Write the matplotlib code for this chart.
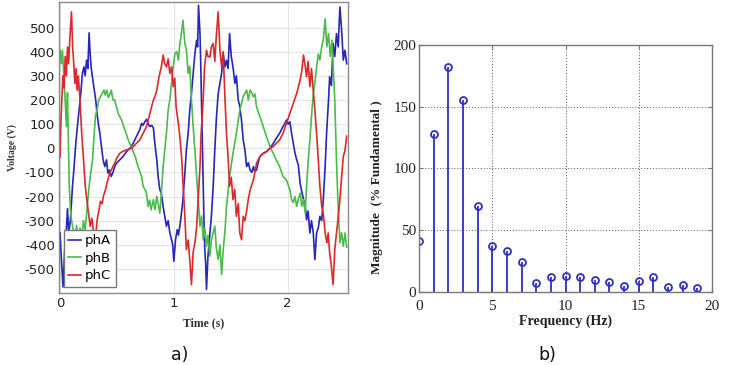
import matplotlib
matplotlib.use("Agg")
import matplotlib.pyplot as plt

plt.rcParams["axes.unicode_minus"] = False

# ---------------- data: panel a) three-phase voltages ----------------
A_t = [
    0.000, 0.010, 0.026, 0.040, 0.050, 0.065, 0.076, 0.090, 0.109, 0.123,
    0.138, 0.152, 0.167, 0.182, 0.196, 0.210, 0.220, 0.233, 0.244, 0.255,
    0.264, 0.274, 0.284, 0.298, 0.313, 0.328, 0.340, 0.350, 0.364, 0.378,
    0.393, 0.408, 0.420, 0.435, 0.450, 0.465, 0.480, 0.496, 0.525, 0.554,
    0.584, 0.613, 0.642, 0.670, 0.700, 0.716, 0.730, 0.745, 0.760, 0.775,
    0.790, 0.805, 0.820, 0.833, 0.850, 0.862, 0.877, 0.890, 0.906, 0.920,
    0.935, 0.950, 0.965, 0.980, 0.990, 1.000, 1.015, 1.030, 1.040, 1.053,
    1.067, 1.080, 1.097, 1.110, 1.126, 1.140, 1.155, 1.170, 1.185, 1.200,
    1.209, 1.217, 1.230, 1.237, 1.246, 1.255, 1.264, 1.272, 1.280, 1.287,
    1.300, 1.317, 1.330, 1.346, 1.360, 1.375, 1.390, 1.405, 1.420, 1.434,
    1.450, 1.463, 1.477, 1.490, 1.505, 1.520, 1.537, 1.550, 1.566, 1.580,
    1.595, 1.610, 1.625, 1.640, 1.655, 1.670, 1.685, 1.700, 1.710, 1.727,
    1.740, 1.757, 1.786, 1.815, 1.845, 1.874, 1.900, 1.930, 1.960, 1.977,
    1.990, 2.005, 2.020, 2.035, 2.050, 2.065, 2.080, 2.095, 2.110, 2.125,
    2.140, 2.155, 2.167, 2.180, 2.196, 2.210, 2.226, 2.240, 2.255, 2.270,
    2.284, 2.300, 2.314, 2.330, 2.343, 2.360, 2.370, 2.385, 2.400, 2.415,
    2.430, 2.445, 2.460, 2.475, 2.490, 2.504, 2.520]
A_v = [
    -350, -450, -575, -420, -380, -250, -350, -300, -158, -76,
    20, 90, 158, 227, 310, 337, 300, 365, 330, 478,
    392, 330, 296, 250, 200, 131, 90, 60, 7, -48,
    -76, -48, -103, -90, -117, -100, -76, -62, -48, -34,
    -14, 0, 20, 48, 76, 103, 95, 110, 120, 100,
    90, 95, 85, 20, -48, -117, -172, -186, -241, -282,
    -323, -300, -351, -379, -400, -468, -379, -337, -360, -323,
    -269, -213, -103, -7, 62, 158, 227, 310, 392, 447,
    420, 592, 475, 337, 131, -76, -282, -420, -480, -585,
    -447, -351, -282, -158, -7, 131, 227, 269, 310, 392,
    337, 365, 330, 475, 380, 337, 269, 300, 200, 172,
    117, 34, -7, -76, -60, -90, -100, -76, -96, -90,
    -62, -34, -21, -14, 0, 20, 41, 62, 90, 103,
    117, 100, 110, 62, 20, -20, -48, -70, -145, -180,
    -213, -240, -296, -260, -351, -300, -351, -461, -351, -330,
    -282, -300, -213, -76, 62, 200, 296, 260, 434, 380,
    475, 420, 585, 490, 365, 406, 350]

B_t = [
    0.000, 0.010, 0.020, 0.030, 0.044, 0.056, 0.065, 0.074, 0.080, 0.090,
    0.100, 0.115, 0.130, 0.145, 0.160, 0.175, 0.190, 0.205, 0.220, 0.235,
    0.255, 0.270, 0.285, 0.300, 0.310, 0.330, 0.340, 0.355, 0.370, 0.385,
    0.397, 0.410, 0.425, 0.440, 0.450, 0.465, 0.480, 0.510, 0.540, 0.570,
    0.600, 0.630, 0.660, 0.686, 0.716, 0.730, 0.745, 0.760, 0.774, 0.787,
    0.800, 0.820, 0.833, 0.850, 0.862, 0.877, 0.890, 0.906, 0.920, 0.935,
    0.950, 0.965, 0.980, 0.994, 1.010, 1.025, 1.040, 1.053, 1.067, 1.080,
    1.097, 1.110, 1.126, 1.140, 1.155, 1.170, 1.185, 1.200, 1.214, 1.230,
    1.244, 1.258, 1.272, 1.287, 1.300, 1.317, 1.330, 1.346, 1.360, 1.375,
    1.390, 1.405, 1.420, 1.434, 1.450, 1.463, 1.477, 1.490, 1.520, 1.550,
    1.580, 1.610, 1.640, 1.655, 1.670, 1.685, 1.700, 1.713, 1.727, 1.757,
    1.786, 1.815, 1.845, 1.874, 1.900, 1.930, 1.960, 1.990, 2.020, 2.035,
    2.050, 2.065, 2.080, 2.095, 2.110, 2.125, 2.140, 2.155, 2.167, 2.180,
    2.196, 2.210, 2.226, 2.240, 2.255, 2.270, 2.284, 2.300, 2.314, 2.330,
    2.345, 2.360, 2.375, 2.390, 2.400, 2.415, 2.430, 2.445, 2.460, 2.475,
    2.490, 2.504, 2.520]
B_v = [
    406, 350, 406, 330, 200, 90, 230, -7, -145, -250,
    -296, -340, -380, -320, -400, -330, -370, -300, -340, -260,
    -158, -100, -48, 62, 131, 172, 200, 213, 227, 241,
    220, 241, 210, 227, 241, 200, 200, 145, 117, 76,
    34, 0, -34, -76, -117, -158, -170, -186, -241, -215,
    -255, -213, -255, -200, -230, -269, -186, -76, -10, 62,
    158, 200, 269, 337, 392, 400, 365, 434, 475, 530,
    434, 410, 310, 340, 200, 90, -7, -117, -213, -323,
    -280, -379, -330, -406, -360, -447, -380, -350, -323, -420,
    -461, -400, -523, -420, -340, -241, -180, -117, -21, 62,
    158, 213, 241, 200, 241, 230, 213, 225, 172, 131,
    90, 48, 7, -21, -48, -76, -117, -131, -172, -213,
    -225, -200, -241, -210, -186, -240, -213, -269, -158, -60,
    34, 130, 227, 270, 337, 390, 365, 420, 450, 537,
    420, 475, 380, 447, 350, 200, -50, -250, -392, -350,
    -406, -351, -410]

C_t = [
    0.000, 0.006, 0.015, 0.025, 0.035, 0.045, 0.055, 0.065, 0.075, 0.085,
    0.100, 0.110, 0.120, 0.130, 0.140, 0.150, 0.160, 0.175, 0.190, 0.205,
    0.220, 0.235, 0.250, 0.265, 0.280, 0.295, 0.310, 0.325, 0.340, 0.355,
    0.370, 0.380, 0.400, 0.420, 0.437, 0.460, 0.480, 0.500, 0.525, 0.555,
    0.584, 0.630, 0.670, 0.700, 0.730, 0.760, 0.790, 0.820, 0.835, 0.850,
    0.870, 0.890, 0.906, 0.920, 0.935, 0.950, 0.965, 0.980, 0.995, 1.008,
    1.020, 1.035, 1.050, 1.070, 1.080, 1.097, 1.110, 1.126, 1.140, 1.155,
    1.170, 1.185, 1.200, 1.214, 1.230, 1.240, 1.258, 1.270, 1.287, 1.300,
    1.317, 1.330, 1.346, 1.360, 1.375, 1.390, 1.405, 1.420, 1.434, 1.450,
    1.463, 1.478, 1.490, 1.505, 1.520, 1.535, 1.550, 1.566, 1.580, 1.595,
    1.610, 1.625, 1.640, 1.654, 1.668, 1.680, 1.700, 1.727, 1.757, 1.786,
    1.815, 1.845, 1.874, 1.900, 1.930, 1.960, 1.990, 2.020, 2.050, 2.080,
    2.110, 2.125, 2.140, 2.155, 2.167, 2.180, 2.196, 2.210, 2.226, 2.240,
    2.255, 2.270, 2.284, 2.300, 2.314, 2.330, 2.345, 2.357, 2.370, 2.385,
    2.400, 2.415, 2.430, 2.446, 2.460, 2.475, 2.490, 2.504, 2.520]
C_v = [
    -36, 90, 200, 300, 250, 380, 300, 420, 350, 450,
    565, 420, 350, 268, 330, 240, 300, 200, 62, -40,
    -150, -213, -270, -323, -290, -351, -379, -300, -260, -220,
    -230, -200, -170, -130, -103, -80, -62, -40, -21, -12,
    -7, 0, 20, 34, 62, 90, 145, 200, 215, 240,
    296, 337, 386, 350, 337, 370, 310, 337, 255, 290,
    172, 120, 62, -48, -145, -282, -420, -380, -461, -565,
    -430, -392, -330, -213, -76, 62, 200, 337, 406, 380,
    378, 420, 434, 360, 475, 565, 406, 337, 400, 200,
    62, -48, -158, -120, -213, -170, -282, -230, -351, -379,
    -282, -300, -260, -213, -180, -158, -131, -62, -34, -21,
    -14, 0, 7, 20, 34, 62, 103, 145, 186, 227,
    282, 320, 386, 340, 296, 360, 255, 330, 241, 158,
    62, -48, -158, -241, -270, -351, -392, -351, -434, -489,
    -565, -420, -351, -282, -213, -120, -34, -10, 50]

phase_names = ["phA", "phB", "phC"]
phase_colors = ["#2626b8", "#4cba4c", "#dc2a2a"]

# ---------------- data: panel b) harmonic spectrum ----------------
freq_hz = list(range(20))
magnitude_pct = [41, 128, 182, 155, 70, 37, 33, 24, 7, 12,
                 13, 12, 10, 8, 5, 9, 12, 4, 6, 3]

# ---------------- figure ----------------
fig = plt.figure(figsize=(7.37, 3.65), dpi=100)

# ----- panel a -----
ax1 = fig.add_axes([0.080, 0.197, 0.392, 0.797])
for t, v, name, col in zip([A_t, B_t, C_t], [A_v, B_v, C_v], phase_names, phase_colors):
    ax1.plot(t, v, color=col, lw=1.2, label=name)
ax1.set_xlim(-0.01, 2.53)
ax1.set_ylim(-600, 605)
ax1.set_xticks([0, 1, 2])
ax1.set_yticks(range(-500, 501, 100))
ax1.grid(True, color="#e4e4e4", lw=0.8)
ax1.set_axisbelow(True)
for s in ax1.spines.values():
    s.set_color("#8a8a8a")
    s.set_linewidth(1.0)
ax1.tick_params(length=0, labelsize=9.5, colors="#222222", pad=3)
ax1.set_xlabel("Time (s)", family="Liberation Serif", fontweight="bold",
               fontsize=8.5, color="#333333", labelpad=5)
ax1.set_ylabel("Voltage (V)", family="Liberation Serif", fontweight="bold",
               fontsize=7, color="#333333")
ax1.yaxis.set_label_coords((17 - 59) / 289, 0.5)
leg = ax1.legend(loc="lower left", bbox_to_anchor=(0.017, 0.021), borderaxespad=0,
                 fontsize=9.5, handlelength=0.95, handletextpad=0.3,
                 labelspacing=0.35, borderpad=0.35, fancybox=False, framealpha=1)
leg.get_frame().set_edgecolor("#777777")
leg.get_frame().set_linewidth(1.0)

# ----- panel b -----
ax2 = fig.add_axes([0.5685, 0.200, 0.3976, 0.677])
stem_col = "#2f2fc4"
ml, sl, bl = ax2.stem(freq_hz, magnitude_pct, basefmt=" ")
plt.setp(sl, color=stem_col, linewidth=1.3)
plt.setp(ml, marker="o", markersize=5, markerfacecolor="none",
         markeredgecolor=stem_col, markeredgewidth=1.3)
ax2.set_xlim(0, 20)
ax2.set_ylim(0, 200)
ax2.set_xticks([0, 5, 10, 15, 20])
ax2.set_yticks([0, 50, 100, 150, 200])
ax2.grid(True, color="#555555", lw=0.7, linestyle=(0, (1, 2)))
ax2.set_axisbelow(True)
for s in ax2.spines.values():
    s.set_color("#777777")
    s.set_linewidth(1.0)
ax2.tick_params(direction="in", length=3, color="#777777", labelsize=11,
                labelcolor="#222222", top=True, right=True)
ax2.tick_params(axis="x", pad=6)
ax2.tick_params(axis="y", pad=2)
for lab in ax2.get_xticklabels() + ax2.get_yticklabels():
    lab.set_family("Liberation Serif")
ax2.set_xlabel("Frequency (Hz)", family="Liberation Serif", fontweight="bold",
               fontsize=10, color="#222222", labelpad=1)
ax2.set_ylabel("Magnitude  (% Fundamental )", family="Liberation Serif",
               fontweight="bold", fontsize=9.5, color="#222222")
ax2.yaxis.set_label_coords((383 - 419) / 293, 0.425)

# ----- sub-captions -----
fig.text(0.244, 0.027, "a)", ha="center", va="center", fontsize=12.5, color="#111111")
fig.text(0.742, 0.027, "b)", ha="center", va="center", fontsize=12.5, color="#111111")

fig.savefig("out.png", dpi=100)
